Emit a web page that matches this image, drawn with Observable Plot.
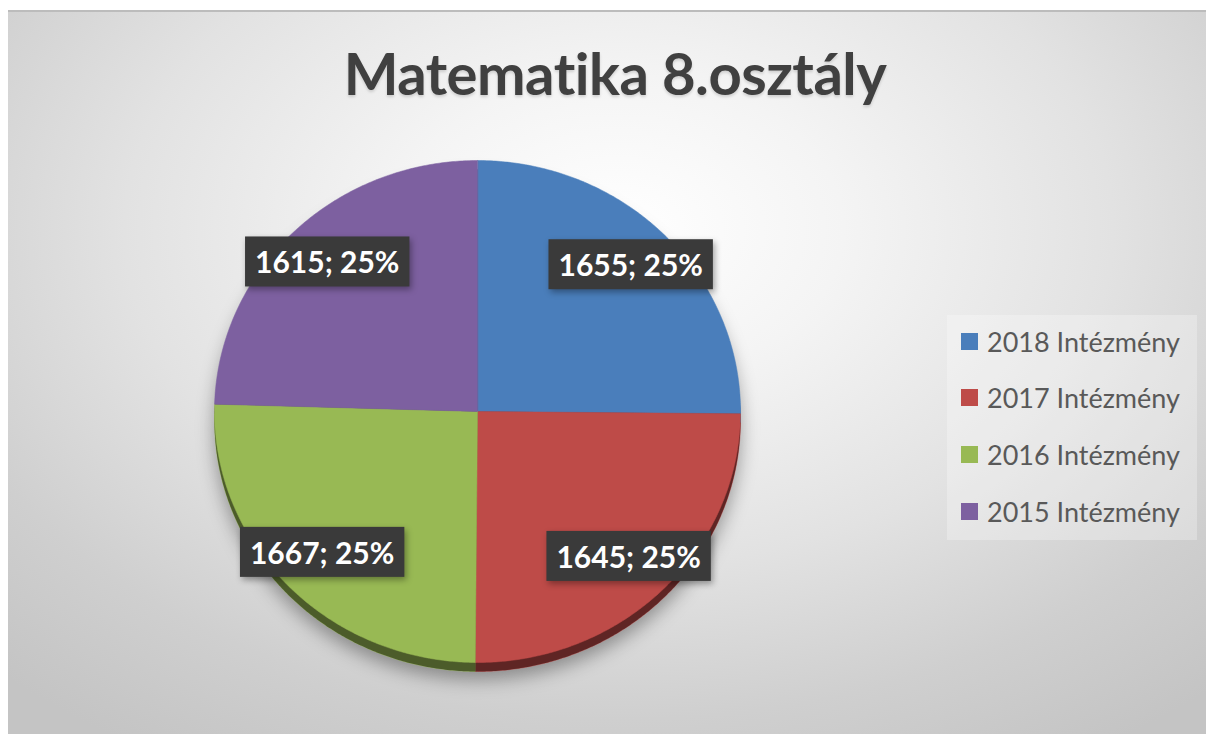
<!DOCTYPE html>
<html>
<head>
<meta charset="utf-8">
<script src="https://cdn.jsdelivr.net/npm/d3@7"></script>
<script src="https://cdn.jsdelivr.net/npm/@observablehq/plot@0.6"></script>
<style>
  html, body { margin: 0; padding: 0; background: #ffffff; }
  #frame {
    position: absolute; left: 8px; top: 10px; width: 1198px; height: 724px;
    background: radial-gradient(ellipse 75% 85% at 51% 30%, #ffffff 0%, #f4f4f4 25%, #e2e2e2 55%, #cfcfcf 80%, #c4c4c4 100%);
    border-top: 2px solid #bcbcbc;
    box-sizing: border-box;
  }
  #title {
    position: absolute; left: 0; width: 1230px; top: 44px; text-align: center;
    font-family: Lato, "Open Sans", sans-serif; font-weight: bold; font-size: 58px;
    color: #404040; line-height: 1; letter-spacing: -0.5px;
    text-shadow: 0 2px 3px rgba(0,0,0,0.15);
  }
  #chart { position: absolute; left: 0; top: 0; }
  #legend {
    position: absolute; left: 947px; top: 315px; width: 250px; height: 225px;
    background: rgba(255,255,255,0.28);
    font-family: Lato, "Open Sans", sans-serif; font-size: 27px; color: #595959;
  }
  .item { position: absolute; left: 14px; height: 30px; display: flex; align-items: center; }
  .sw { width: 17px; height: 17px; margin-right: 9px; }
</style>
</head>
<body>
<div id="frame"></div>
<div id="chart"></div>
<div id="title">Matematika 8.osztály</div>
<div id="legend"></div>
<script>
// ---- data ----
const categories = ["2018 Intézmény", "2017 Intézmény", "2016 Intézmény", "2015 Intézmény"];
const values = [1655, 1645, 1667, 1615];
const colors = ["#4a7ebb", "#be4b48", "#98b954", "#7d60a0"];

const total = d3.sum(values);
const rows = categories.map((c, i) => ({cat: c, value: values[i], color: colors[i]}));
const arcs = d3.pie().sort(null).value(d => d.value)(rows);

// slice outlines (angles clockwise from 12 o'clock, as in the original)
const step = Math.PI / 360;
const points = [];
for (const a of arcs) {
  points.push({cat: a.data.cat, color: a.data.color, x: 0, y: 0});
  for (let t = a.startAngle; t < a.endAngle; t += step) {
    points.push({cat: a.data.cat, color: a.data.color, x: Math.sin(t), y: Math.cos(t)});
  }
  points.push({cat: a.data.cat, color: a.data.color, x: Math.sin(a.endAngle), y: Math.cos(a.endAngle)});
}
const labels = arcs.map(a => {
  const m = (a.startAngle + a.endAngle) / 2;
  return {
    x: 0.82 * Math.sin(m), y: 0.82 * Math.cos(m),
    text: `${a.data.value}; ${Math.round(a.data.value / total * 100)}%`
  };
});

const chart = Plot.plot({
  width: 1208, height: 734,
  style: {background: "transparent", overflow: "visible"},
  x: {domain: [-1, 1], range: [214, 740], axis: null},
  y: {domain: [-1, 1], range: [662, 160], axis: null},
  marks: [
    Plot.line(points, {x: "x", y: "y", z: "cat", fill: d => d.color, stroke: d => d.color, strokeWidth: 0.5, curve: "linear-closed", dy: 9}),
    Plot.line(points, {x: "x", y: "y", z: "cat", fill: "#000", fillOpacity: 0.5, stroke: "none", curve: "linear-closed", dy: 9}),
    Plot.line(points, {x: "x", y: "y", z: "cat", fill: d => d.color, stroke: d => d.color, strokeWidth: 0.5, curve: "linear-closed"}),
    Plot.text(labels, {x: "x", y: "y", text: "text", fill: "white", fontSize: 30, fontWeight: "bold", fontFamily: "Lato, 'Open Sans', sans-serif"})
  ]
});
document.getElementById("chart").appendChild(chart);

// shadow under the pie
const groups = chart.querySelectorAll("g[aria-label='line']");
if (groups.length) groups[0].style.filter = "drop-shadow(0px 8px 9px rgba(0,0,0,0.35))";

// dark label boxes behind data labels
const tg = chart.querySelector("g[aria-label='text']");
if (tg) {
  for (const t of Array.from(tg.querySelectorAll("text"))) {
    const b = t.getBBox();
    const r = document.createElementNS("http://www.w3.org/2000/svg", "rect");
    const px = 10, py = 7;
    r.setAttribute("x", b.x - px);
    r.setAttribute("y", b.y - py);
    r.setAttribute("width", b.width + 2 * px);
    r.setAttribute("height", b.height + 2 * py);
    r.setAttribute("fill", "#3a3a3a");
    r.setAttribute("stroke", "none");
    if (t.getAttribute("transform")) r.setAttribute("transform", t.getAttribute("transform"));
    r.style.filter = "drop-shadow(2px 3px 3px rgba(0,0,0,0.35))";
    tg.insertBefore(r, t);
  }
}

// legend
const lg = document.getElementById("legend");
const rowTops = [11, 67, 124, 181];
categories.forEach((c, i) => {
  const it = document.createElement("div");
  it.className = "item";
  it.style.top = rowTops[i] + "px";
  it.innerHTML = `<div class="sw" style="background:${colors[i]}"></div><span>${c}</span>`;
  lg.appendChild(it);
});
</script>
</body>
</html>
